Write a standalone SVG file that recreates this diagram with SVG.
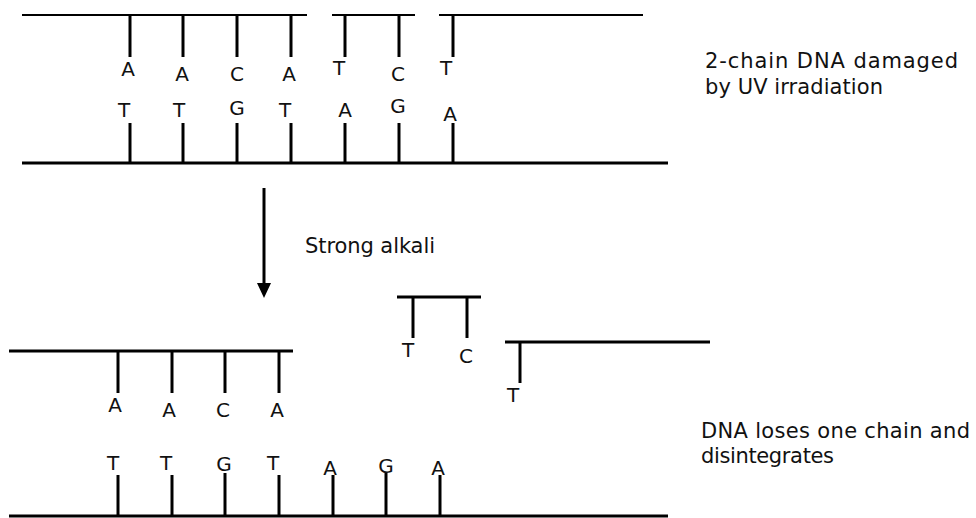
<svg xmlns="http://www.w3.org/2000/svg" width="976" height="518" viewBox="0 0 976 518">
<style>
.bg{fill:#fff}
.strand{stroke:#000;stroke-width:3;fill:none}
.thin{stroke:#000;stroke-width:2;fill:none}
.tick{stroke:#000;stroke-width:3;fill:none}
.base{font-family:"DejaVu Sans","Liberation Sans",sans-serif;font-size:20px;fill:#111;text-anchor:middle}
.lbl{font-family:"DejaVu Sans","Liberation Sans",sans-serif;font-size:21px;fill:#111}
</style>
<rect class="bg" x="0" y="0" width="976" height="518"/>

<g id="top-upper-strand">
<line class="thin" x1="22" y1="15" x2="307" y2="15"/>
<line class="thin" x1="332" y1="15" x2="415" y2="15"/>
<line class="thin" x1="439" y1="15" x2="643" y2="15"/>
<line class="tick" x1="130" y1="15" x2="130" y2="57"/>
<line class="tick" x1="183" y1="15" x2="183" y2="57"/>
<line class="tick" x1="237" y1="15" x2="237" y2="57"/>
<line class="tick" x1="291" y1="15" x2="291" y2="57"/>
<line class="tick" x1="345" y1="15" x2="345" y2="57"/>
<line class="tick" x1="399" y1="15" x2="399" y2="57"/>
<line class="tick" x1="453" y1="15" x2="453" y2="57"/>
<text class="base" x="128" y="76">A</text>
<text class="base" x="182" y="81">A</text>
<text class="base" x="237" y="81">C</text>
<text class="base" x="289" y="81">A</text>
<text class="base" x="339" y="75">T</text>
<text class="base" x="398" y="81">C</text>
<text class="base" x="446" y="75">T</text>
</g>

<g id="top-lower-strand">
<line class="strand" x1="22" y1="163" x2="668" y2="163"/>
<line class="tick" x1="130" y1="123" x2="130" y2="163"/>
<line class="tick" x1="183" y1="123" x2="183" y2="163"/>
<line class="tick" x1="237" y1="123" x2="237" y2="163"/>
<line class="tick" x1="291" y1="123" x2="291" y2="163"/>
<line class="tick" x1="345" y1="123" x2="345" y2="163"/>
<line class="tick" x1="399" y1="123" x2="399" y2="163"/>
<line class="tick" x1="453" y1="123" x2="453" y2="163"/>
<text class="base" x="124" y="117">T</text>
<text class="base" x="179" y="117">T</text>
<text class="base" x="237" y="115">G</text>
<text class="base" x="285" y="117">T</text>
<text class="base" x="345" y="117">A</text>
<text class="base" x="398" y="113">G</text>
<text class="base" x="450" y="121">A</text>
</g>

<g id="label-top">
<text class="lbl" x="705" y="68" textLength="253" lengthAdjust="spacing">2-chain DNA damaged</text>
<text class="lbl" x="705" y="94" textLength="178" lengthAdjust="spacing">by UV irradiation</text>
</g>

<g id="connectors">
<line x1="264" y1="188" x2="264" y2="285" stroke="#000" stroke-width="3"/>
<polygon points="257,283 271,283 264,298" fill="#000"/>
</g>

<g id="label-alkali">
<text class="lbl" x="305" y="253" textLength="130" lengthAdjust="spacing">Strong alkali</text>
</g>

<g id="fragment-tc">
<line class="strand" x1="397" y1="297" x2="481" y2="297"/>
<line class="tick" x1="413" y1="297" x2="413" y2="338"/>
<line class="tick" x1="467" y1="297" x2="467" y2="338"/>
<text class="base" x="408" y="357">T</text>
<text class="base" x="466" y="363">C</text>
</g>

<g id="fragment-t">
<line class="strand" x1="505" y1="342" x2="710" y2="342"/>
<line class="tick" x1="520" y1="342" x2="520" y2="383"/>
<text class="base" x="513" y="402">T</text>
</g>

<g id="bottom-upper-strand">
<line class="strand" x1="9" y1="351" x2="293" y2="351"/>
<line class="tick" x1="118" y1="351" x2="118" y2="393"/>
<line class="tick" x1="172" y1="351" x2="172" y2="393"/>
<line class="tick" x1="225" y1="351" x2="225" y2="393"/>
<line class="tick" x1="279" y1="351" x2="279" y2="393"/>
<text class="base" x="115" y="412">A</text>
<text class="base" x="169" y="417">A</text>
<text class="base" x="223" y="417">C</text>
<text class="base" x="277" y="417">A</text>
</g>

<g id="bottom-lower-strand">
<line class="strand" x1="9" y1="516" x2="668" y2="516"/>
<line class="tick" x1="118" y1="475" x2="118" y2="516"/>
<line class="tick" x1="172" y1="475" x2="172" y2="516"/>
<line class="tick" x1="225" y1="473" x2="225" y2="516"/>
<line class="tick" x1="279" y1="475" x2="279" y2="516"/>
<line class="tick" x1="333" y1="475" x2="333" y2="516"/>
<line class="tick" x1="386" y1="473" x2="386" y2="516"/>
<line class="tick" x1="440" y1="475" x2="440" y2="516"/>
<text class="base" x="113" y="470">T</text>
<text class="base" x="166" y="470">T</text>
<text class="base" x="224" y="471">G</text>
<text class="base" x="273" y="470">T</text>
<text class="base" x="330" y="475">A</text>
<text class="base" x="386" y="473">G</text>
<text class="base" x="438" y="475">A</text>
</g>

<g id="label-bottom">
<text class="lbl" x="701" y="438" textLength="269" lengthAdjust="spacing">DNA loses one chain and</text>
<text class="lbl" x="701" y="463" textLength="133" lengthAdjust="spacing">disintegrates</text>
</g>
</svg>
